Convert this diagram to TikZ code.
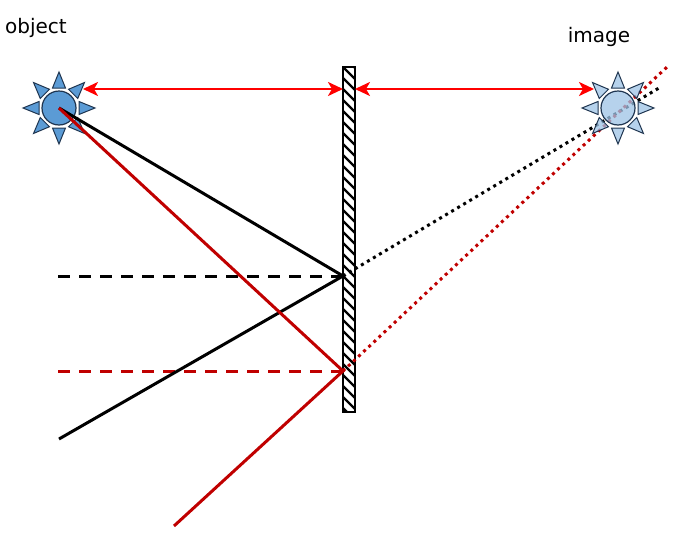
\documentclass[tikz,border=0pt]{standalone}
\usepackage{fontspec}
\setmainfont{DejaVu Sans}
\usetikzlibrary{arrows.meta}
\definecolor{ray}{HTML}{C00000}
\definecolor{arr}{HTML}{FF0000}
\definecolor{sunA}{HTML}{5B9BD5}
\definecolor{sunB}{HTML}{9DC3E6}
\definecolor{sunline}{HTML}{1F3550}
\tikzset{
  lbl/.style={font=\fontsize{20}{22}\selectfont, inner sep=0pt},
  solidray/.style={line width=3pt},
  dashray/.style={line width=3pt, dash pattern=on 12pt off 9pt},
  dotray/.style={line width=3pt, dash pattern=on 3pt off 4pt},
  hatch/.style={line width=2.2pt},
  dist/.style={arr, line width=2.4pt, {Stealth[length=15pt,width=14pt,inset=4pt]}-{Stealth[length=15pt,width=14pt,inset=4pt]}},
  pics/sun/.style={code={
    \foreach \a in {0,45,...,315}
      \draw[sunline, line width=1pt, fill=#1, rotate=\a] (20,-6.5) -- (36,0) -- (20,6.5) -- cycle;
    \draw[sunline, line width=1.2pt, fill=#1] (0,0) circle (17);
  }}
}
\begin{document}
\begin{tikzpicture}[x=1pt,y=-1pt]
\useasboundingbox (0,0) rectangle (697,536);
% labels
\node[lbl] (tobj) at (36,28) {object};
\node[lbl] (timg) at (599,37) {image};
% key points
\coordinate (O) at (59,108);
\coordinate (I) at (618,108);
\coordinate (m1) at (343,276);
\coordinate (m2) at (343,371);
\coordinate (b1) at (59,439);
\coordinate (r1) at (174,526);
\coordinate (d1) at (659,88);
\coordinate (d2) at (667,67);
\coordinate (h1) at (58,276);
\coordinate (h2) at (58,371);
\coordinate (a1) at (83,89);
\coordinate (a2) at (343,89);
\coordinate (a3) at (355,89);
\coordinate (a4) at (594,89);
% mirror
\begin{scope}
  \clip (343,67) rectangle (355,412);
  \foreach \k in {-22,-11,...,360}
    \draw[hatch] (340,64+\k) -- (358,82+\k);
\end{scope}
\node[draw, line width=1.8pt, minimum width=12pt, minimum height=345pt, inner sep=0pt] (mir) at (349,239.5) {};
% dashed normals
\draw[dashray, black] (h1) -- (m1);
\draw[dashray, ray] (h2) -- (m2);
% object sun
\pic (osun) at (O) {sun=sunA};
% rays
\draw[solidray, black] (O) -- (m1) -- (b1);
\draw[solidray, ray] (O) -- (m2) -- (r1);
% virtual rays
\draw[dotray, black] (m1) -- (d1);
\draw[dotray, ray] (m2) -- (d2);
% image sun
\begin{scope}[fill opacity=0.75]
\pic (isun) at (I) {sun=sunB};
\end{scope}
% distance arrows
\draw[dist] (a1) -- (a2);
\draw[dist] (a3) -- (a4);
\end{tikzpicture}
\end{document}
